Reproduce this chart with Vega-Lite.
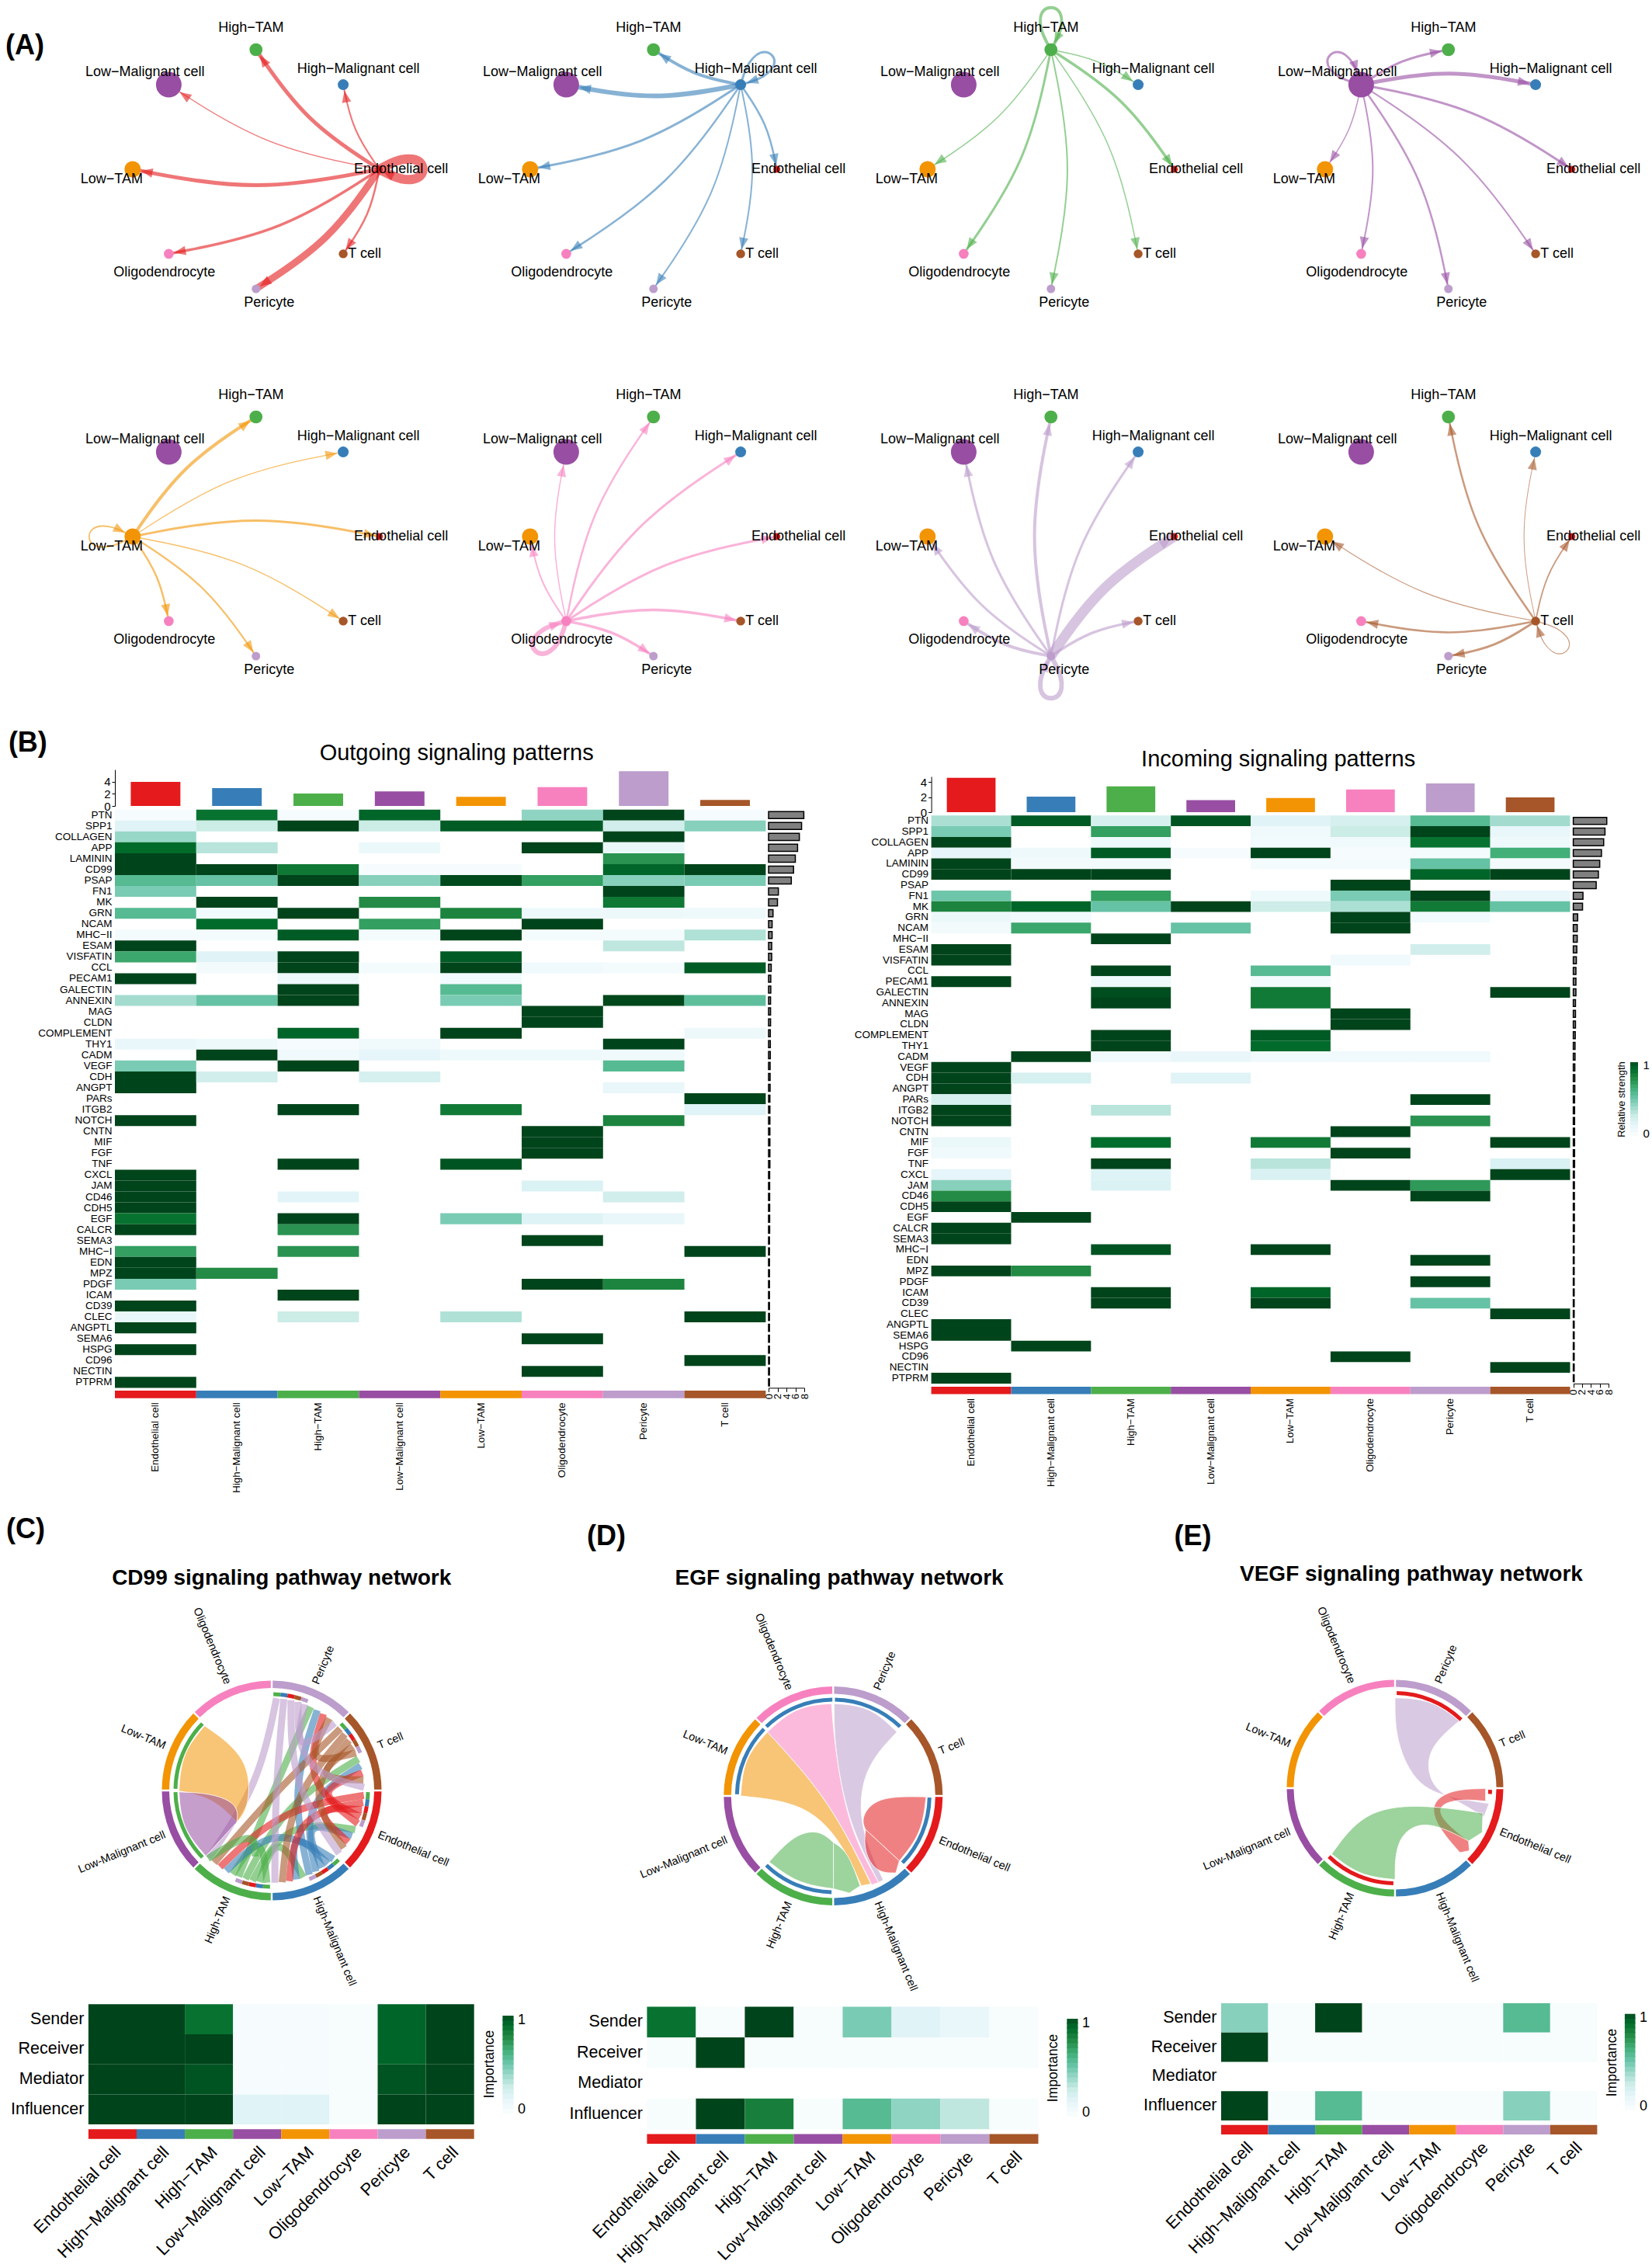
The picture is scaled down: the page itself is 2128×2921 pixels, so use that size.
{"$schema":"https://vega.github.io/schema/vega-lite/v6.json","padding":0,"background":"white","spacing":-14,
"config":{"font":"Liberation Sans","view":{"stroke":null},"range":{"category":["#E41A1C","#377EB8","#4DAF4A","#984EA3","#F29403","#F781BF","#BC9DCC","#A65628"]},"axis":{"grid":false,"labelColor":"black","titleColor":"black","domainColor":"black","tickColor":"black","labelOverlap":false,"labelLimit":500}},
"datasets":{
"edges":[
{"p":1,"lab":"(A)","x":-1.874,"y":1.032},
{"p":1,"c":"EC","t":"HT","w":5,"h":326,"x":[1,0.4,0],"y":[0,0.4,1],"o":[0,1,9]},
{"p":1,"c":"EC","t":"HM","w":2,"h":349,"x":[1,0.783,0.707],"y":[0,0.325,0.707],"o":[0,1,9]},
{"p":1,"c":"EC","t":"TC","w":2.5,"h":214,"x":[1,0.925,0.707],"y":[0,-0.383,-0.707],"o":[0,1,9]},
{"p":1,"c":"EC","t":"PE","w":9,"h":236,"x":[1,0.6,0],"y":[0,-0.6,-1],"o":[0,1,9]},
{"p":1,"c":"EC","t":"OL","w":3.5,"h":259,"x":[1,0.217,-0.707],"y":[0,-0.525,-0.707],"o":[0,1,9]},
{"p":1,"c":"EC","t":"LT","w":5,"h":281,"x":[1,0,-1],"y":[0,-0.2,0],"o":[0,1,9]},
{"p":1,"c":"EC","t":"LM","w":1.3,"h":304,"x":[1,0.075,-0.707],"y":[0,0.183,0.707],"o":[0,1,9]},
{"p":1,"c":"EC","t":"EC","w":12,"h":297,"x":[1,1.18,1.36,1.36,1.18,1],"y":[0,0.1,0.08,-0.08,-0.1,0],"o":[0,1,2,3,4,9]},
{"p":2,"c":"HM","t":"HT","w":4,"h":304,"x":[0.707,0.325,0],"y":[0.707,0.783,1],"o":[0,1,9]},
{"p":2,"c":"HM","t":"EC","w":2.5,"h":169,"x":[0.707,0.925,1],"y":[0.707,0.383,0],"o":[0,1,9]},
{"p":2,"c":"HM","t":"TC","w":2,"h":191,"x":[0.707,0.848,0.707],"y":[0.707,0,-0.707],"o":[0,1,9]},
{"p":2,"c":"HM","t":"PE","w":2,"h":214,"x":[0.707,0.525,0],"y":[0.707,-0.217,-1],"o":[0,1,9]},
{"p":2,"c":"HM","t":"OL","w":2.5,"h":236,"x":[0.707,0.141,-0.707],"y":[0.707,-0.141,-0.707],"o":[0,1,9]},
{"p":2,"c":"HM","t":"LT","w":3,"h":259,"x":[0.707,-0.075,-1],"y":[0.707,0.183,0],"o":[0,1,9]},
{"p":2,"c":"HM","t":"LM","w":6,"h":281,"x":[0.707,0,-0.707],"y":[0.707,0.566,0.707],"o":[0,1,9]},
{"p":2,"c":"HM","t":"HM","w":3,"h":252,"x":[0.707,0.763,0.905,1.019,0.905,0.707],"y":[0.707,0.905,1.019,0.905,0.763,0.707],"o":[0,1,2,3,4,9]},
{"p":3,"c":"HT","t":"HM","w":1.5,"h":124,"x":[0,0.383,0.707],"y":[1,0.925,0.707],"o":[0,1,9]},
{"p":3,"c":"HT","t":"EC","w":3.5,"h":146,"x":[0,0.6,1],"y":[1,0.6,0],"o":[0,1,9]},
{"p":3,"c":"HT","t":"TC","w":1.5,"h":169,"x":[0,0.525,0.707],"y":[1,0.217,-0.707],"o":[0,1,9]},
{"p":3,"c":"HT","t":"PE","w":2,"h":191,"x":[0,0.2,0],"y":[1,0,-1],"o":[0,1,9]},
{"p":3,"c":"HT","t":"OL","w":3,"h":214,"x":[0,-0.183,-0.707],"y":[1,0.075,-0.707],"o":[0,1,9]},
{"p":3,"c":"HT","t":"LT","w":1.5,"h":236,"x":[0,-0.4,-1],"y":[1,0.4,0],"o":[0,1,9]},
{"p":3,"c":"HT","t":"HT","w":4,"h":207,"x":[0,-0.1,-0.08,0.08,0.1,0],"y":[1,1.18,1.36,1.36,1.18,1],"o":[0,1,2,3,4,9]},
{"p":4,"c":"LM","t":"HT","w":3,"h":79,"x":[-0.707,-0.383,0],"y":[0.707,0.925,1],"o":[0,1,9]},
{"p":4,"c":"LM","t":"HM","w":5,"h":101,"x":[-0.707,0,0.707],"y":[0.707,0.848,0.707],"o":[0,1,9]},
{"p":4,"c":"LM","t":"EC","w":3,"h":124,"x":[-0.707,0.217,1],"y":[0.707,0.525,0],"o":[0,1,9]},
{"p":4,"c":"LM","t":"TC","w":2,"h":146,"x":[-0.707,0.141,0.707],"y":[0.707,0.141,-0.707],"o":[0,1,9]},
{"p":4,"c":"LM","t":"PE","w":2.5,"h":169,"x":[-0.707,-0.183,0],"y":[0.707,-0.075,-1],"o":[0,1,9]},
{"p":4,"c":"LM","t":"OL","w":2,"h":191,"x":[-0.707,-0.566,-0.707],"y":[0.707,0,-0.707],"o":[0,1,9]},
{"p":4,"c":"LM","t":"LT","w":1.5,"h":214,"x":[-0.707,-0.783,-1],"y":[0.707,0.325,0],"o":[0,1,9]},
{"p":4,"c":"LM","t":"LM","w":3,"h":162,"x":[-0.707,-0.905,-1.019,-0.905,-0.763,-0.707],"y":[0.707,0.763,0.905,1.019,0.905,0.707],"o":[0,1,2,3,4,9]},
{"p":5,"c":"LT","t":"HT","w":4,"h":56,"x":[-1,-0.6,0],"y":[0,0.6,1],"o":[0,1,9]},
{"p":5,"c":"LT","t":"HM","w":1.3,"h":79,"x":[-1,-0.217,0.707],"y":[0,0.525,0.707],"o":[0,1,9]},
{"p":5,"c":"LT","t":"EC","w":3,"h":101,"x":[-1,0,1],"y":[0,0.2,0],"o":[0,1,9]},
{"p":5,"c":"LT","t":"TC","w":1.4,"h":124,"x":[-1,-0.075,0.707],"y":[0,-0.183,-0.707],"o":[0,1,9]},
{"p":5,"c":"LT","t":"PE","w":2.2,"h":146,"x":[-1,-0.4,0],"y":[0,-0.4,-1],"o":[0,1,9]},
{"p":5,"c":"LT","t":"OL","w":2.5,"h":169,"x":[-1,-0.783,-0.707],"y":[0,-0.325,-0.707],"o":[0,1,9]},
{"p":5,"c":"LT","t":"LT","w":1.8,"h":117,"x":[-1,-1.18,-1.36,-1.36,-1.18,-1],"y":[0,-0.1,-0.08,0.08,0.1,0],"o":[0,1,2,3,4,9]},
{"p":6,"c":"OL","t":"HT","w":2.5,"h":34,"x":[-0.707,-0.525,0],"y":[-0.707,0.217,1],"o":[0,1,9]},
{"p":6,"c":"OL","t":"HM","w":3,"h":56,"x":[-0.707,-0.141,0.707],"y":[-0.707,0.141,0.707],"o":[0,1,9]},
{"p":6,"c":"OL","t":"EC","w":3,"h":79,"x":[-0.707,0.075,1],"y":[-0.707,-0.183,0],"o":[0,1,9]},
{"p":6,"c":"OL","t":"TC","w":3.5,"h":101,"x":[-0.707,0,0.707],"y":[-0.707,-0.566,-0.707],"o":[0,1,9]},
{"p":6,"c":"OL","t":"PE","w":3.5,"h":124,"x":[-0.707,-0.325,0],"y":[-0.707,-0.783,-1],"o":[0,1,9]},
{"p":6,"c":"OL","t":"LT","w":2,"h":349,"x":[-0.707,-0.925,-1],"y":[-0.707,-0.383,0],"o":[0,1,9]},
{"p":6,"c":"OL","t":"LM","w":1.5,"h":11,"x":[-0.707,-0.848,-0.707],"y":[-0.707,0,0.707],"o":[0,1,9]},
{"p":6,"c":"OL","t":"OL","w":6,"h":72,"x":[-0.707,-0.763,-0.905,-1.019,-0.905,-0.707],"y":[-0.707,-0.905,-1.019,-0.905,-0.763,-0.707],"o":[0,1,2,3,4,9]},
{"p":7,"c":"PE","t":"HT","w":4,"h":11,"x":[0,-0.2,0],"y":[-1,0,1],"o":[0,1,9]},
{"p":7,"c":"PE","t":"HM","w":3,"h":34,"x":[0,0.183,0.707],"y":[-1,-0.075,0.707],"o":[0,1,9]},
{"p":7,"c":"PE","t":"EC","w":13,"h":56,"x":[0,0.4,1],"y":[-1,-0.4,0],"o":[0,1,9]},
{"p":7,"c":"PE","t":"TC","w":3.5,"h":79,"x":[0,0.325,0.707],"y":[-1,-0.783,-0.707],"o":[0,1,9]},
{"p":7,"c":"PE","t":"OL","w":4,"h":304,"x":[0,-0.383,-0.707],"y":[-1,-0.925,-0.707],"o":[0,1,9]},
{"p":7,"c":"PE","t":"LT","w":3,"h":326,"x":[0,-0.6,-1],"y":[-1,-0.6,0],"o":[0,1,9]},
{"p":7,"c":"PE","t":"LM","w":3,"h":349,"x":[0,-0.525,-0.707],"y":[-1,-0.217,0.707],"o":[0,1,9]},
{"p":7,"c":"PE","t":"PE","w":6,"h":27,"x":[0,0.1,0.08,-0.08,-0.1,0],"y":[-1,-1.18,-1.36,-1.36,-1.18,-1],"o":[0,1,2,3,4,9]},
{"p":8,"c":"TC","t":"HT","w":2.5,"h":349,"x":[0.707,0.183,0],"y":[-0.707,0.075,1],"o":[0,1,9]},
{"p":8,"c":"TC","t":"HM","w":1,"h":11,"x":[0.707,0.566,0.707],"y":[-0.707,0,0.707],"o":[0,1,9]},
{"p":8,"c":"TC","t":"EC","w":1.8,"h":34,"x":[0.707,0.783,1],"y":[-0.707,-0.325,0],"o":[0,1,9]},
{"p":8,"c":"TC","t":"PE","w":3,"h":259,"x":[0.707,0.383,0],"y":[-0.707,-0.925,-1],"o":[0,1,9]},
{"p":8,"c":"TC","t":"OL","w":2.5,"h":281,"x":[0.707,0,-0.707],"y":[-0.707,-0.848,-0.707],"o":[0,1,9]},
{"p":8,"c":"TC","t":"LT","w":1.2,"h":304,"x":[0.707,-0.217,-1],"y":[-0.707,-0.525,0],"o":[0,1,9]},
{"p":8,"c":"TC","t":"TC","w":1.2,"h":342,"x":[0.707,0.905,1.019,0.905,0.763,0.707],"y":[-0.707,-0.763,-0.905,-1.019,-0.905,-0.707],"o":[0,1,2,3,4,9]}
],
"nodes":[{"c":"HT","x":0,"y":1,"s":280},{"c":"HM","x":0.707,"y":0.707,"s":196},{"c":"EC","x":1,"y":0,"s":81},{"c":"TC","x":0.707,"y":-0.707,"s":130},{"c":"PE","x":0,"y":-1,"s":120},{"c":"OL","x":-0.707,"y":-0.707,"s":160},{"c":"LT","x":-1,"y":0,"s":441},{"c":"LM","x":-0.707,"y":0.707,"s":1089}],
"labels":[{"n":"High−TAM","x":-0.04,"y":1.18},{"n":"Low−Malignant cell","x":-0.9,"y":0.81},{"n":"High−Malignant cell","x":0.83,"y":0.84},{"n":"Endothelial cell","x":1.176,"y":0},{"n":"T cell","x":0.88,"y":-0.71},{"n":"Pericyte","x":0.107,"y":-1.117},{"n":"Oligodendrocyte","x":-0.742,"y":-0.864},{"n":"Low−TAM","x":-1.17,"y":-0.084}],
"btitle":[{"t":"Outgoing signaling patterns","x":4.2,"y":8.68},{"t":"Incoming signaling patterns","x":14.3,"y":7.69}],
"bletter":[{"t":"(B)","x":-1.07,"y":10.38}],
"types":[{"n":"Endothelial cell","c":"EC","k":1},{"n":"High−Malignant cell","c":"HM","k":1},{"n":"High−TAM","c":"HT","k":1},{"n":"Low−Malignant cell","c":"LM","k":1},{"n":"Low−TAM","c":"LT","k":1},{"n":"Oligodendrocyte","c":"OL","k":1},{"n":"Pericyte","c":"PE","k":1},{"n":"T cell","c":"TC","k":1}],
"bars":[{"g":"O","c":"EC","v":3.98},{"g":"O","c":"HM","v":2.95},{"g":"O","c":"HT","v":2.05},{"g":"O","c":"LM","v":2.4},{"g":"O","c":"LT","v":1.5},{"g":"O","c":"OL","v":3.1},{"g":"O","c":"PE","v":5.75},{"g":"O","c":"TC","v":1},{"g":"I","c":"EC","v":4.55},{"g":"I","c":"HM","v":2.05},{"g":"I","c":"HT","v":3.42},{"g":"I","c":"LM","v":1.6},{"g":"I","c":"LT","v":1.88},{"g":"I","c":"OL","v":3},{"g":"I","c":"PE","v":3.8},{"g":"I","c":"TC","v":1.95}],
"side":[{"r":"PTN","o":7.9,"i":7.6},{"r":"SPP1","o":7.4,"i":7.2},{"r":"COLLAGEN","o":6.9,"i":6.9},{"r":"APP","o":6.5,"i":6.4},{"r":"LAMININ","o":6,"i":6},{"r":"CD99","o":5.6,"i":5.7},{"r":"PSAP","o":5.1,"i":5.2},{"r":"FN1","o":2.2,"i":2.2},{"r":"MK","o":2,"i":2.1},{"r":"GRN","o":1,"i":1},{"r":"NCAM","o":0.8,"i":0.9},{"r":"MHC−II","o":0.8,"i":0.9},{"r":"ESAM","o":0.7,"i":0.8},{"r":"VISFATIN","o":0.7,"i":0.7},{"r":"CCL","o":0.6,"i":0.6},{"r":"PECAM1","o":0.5,"i":0.6},{"r":"GALECTIN","o":0.5,"i":0.6},{"r":"ANNEXIN","o":0.45,"i":0.5},{"r":"MAG","o":0.45,"i":0.5},{"r":"CLDN","o":0.45,"i":0.5},{"r":"COMPLEMENT","o":0.4,"i":0.45},{"r":"THY1","o":0.4,"i":0.4},{"r":"CADM","o":0.4,"i":0.4},{"r":"VEGF","o":0.35,"i":0.35},{"r":"CDH","o":0.35,"i":0.35},{"r":"ANGPT","o":0.35,"i":0.35},{"r":"PARs","o":0.3,"i":0.3},{"r":"ITGB2","o":0.3,"i":0.3},{"r":"NOTCH","o":0.3,"i":0.3},{"r":"CNTN","o":0.3,"i":0.3},{"r":"MIF","o":0.3,"i":0.3},{"r":"FGF","o":0.3,"i":0.3},{"r":"TNF","o":0.3,"i":0.3},{"r":"CXCL","o":0.25,"i":0.25},{"r":"JAM","o":0.25,"i":0.25},{"r":"CD46","o":0.25,"i":0.25},{"r":"CDH5","o":0.25,"i":0.25},{"r":"EGF","o":0.25,"i":0.25},{"r":"CALCR","o":0.25,"i":0.25},{"r":"SEMA3","o":0.2,"i":0.2},{"r":"MHC−I","o":0.2,"i":0.2},{"r":"EDN","o":0.2,"i":0.2},{"r":"MPZ","o":0.2,"i":0.2},{"r":"PDGF","o":0.2,"i":0.2},{"r":"ICAM","o":0.2,"i":0.2},{"r":"CD39","o":0.2,"i":0.2},{"r":"CLEC","o":0.2,"i":0.2},{"r":"ANGPTL","o":0.2,"i":0.2},{"r":"SEMA6","o":0.2,"i":0.2},{"r":"HSPG","o":0.2,"i":0.2},{"r":"CD96","o":0.2,"i":0.2},{"r":"NECTIN","o":0.2,"i":0.2},{"r":"PTPRM","o":0.2,"i":0.2}],
"heatO":[
{"r":"PTN","c":"EC","v":0.01},{"r":"PTN","c":"HM","v":0.85},{"r":"PTN","c":"HT","v":0.01},{"r":"PTN","c":"LM","v":0.9},{"r":"PTN","c":"OL","v":0.4},{"r":"PTN","c":"PE","v":1},{"r":"PTN","c":"TC","v":0.01},
{"r":"SPP1","c":"EC","v":0.15},{"r":"SPP1","c":"HM","v":0.25},{"r":"SPP1","c":"HT","v":1},{"r":"SPP1","c":"LM","v":0.25},{"r":"SPP1","c":"LT","v":0.93},{"r":"SPP1","c":"OL","v":0.93},{"r":"SPP1","c":"PE","v":0.22},{"r":"SPP1","c":"TC","v":0.42},
{"r":"COLLAGEN","c":"EC","v":0.38},{"r":"COLLAGEN","c":"PE","v":1},
{"r":"APP","c":"EC","v":0.88},{"r":"APP","c":"HM","v":0.3},{"r":"APP","c":"LM","v":0.08},{"r":"APP","c":"OL","v":1},{"r":"APP","c":"PE","v":0.08},
{"r":"LAMININ","c":"EC","v":1},{"r":"LAMININ","c":"PE","v":0.72},
{"r":"CD99","c":"EC","v":1},{"r":"CD99","c":"HM","v":1},{"r":"CD99","c":"HT","v":0.83},{"r":"CD99","c":"LM","v":0.01},{"r":"CD99","c":"LT","v":0.01},{"r":"CD99","c":"PE","v":0.9},{"r":"CD99","c":"TC","v":1},
{"r":"PSAP","c":"EC","v":0.55},{"r":"PSAP","c":"HM","v":0.5},{"r":"PSAP","c":"HT","v":1},{"r":"PSAP","c":"LM","v":0.42},{"r":"PSAP","c":"LT","v":0.98},{"r":"PSAP","c":"OL","v":0.68},{"r":"PSAP","c":"PE","v":0.42},{"r":"PSAP","c":"TC","v":0.45},
{"r":"FN1","c":"EC","v":0.45},{"r":"FN1","c":"PE","v":1},
{"r":"MK","c":"HM","v":1},{"r":"MK","c":"LM","v":0.75},{"r":"MK","c":"PE","v":0.83},
{"r":"GRN","c":"EC","v":0.55},{"r":"GRN","c":"HM","v":0.04},{"r":"GRN","c":"HT","v":1},{"r":"GRN","c":"LT","v":0.78},{"r":"GRN","c":"OL","v":0.07},{"r":"GRN","c":"PE","v":0.07},{"r":"GRN","c":"TC","v":0.06},
{"r":"NCAM","c":"HM","v":0.88},{"r":"NCAM","c":"LM","v":0.68},{"r":"NCAM","c":"OL","v":1},
{"r":"MHC−II","c":"EC","v":0.02},{"r":"MHC−II","c":"HM","v":0.02},{"r":"MHC−II","c":"HT","v":0.93},{"r":"MHC−II","c":"LM","v":0.02},{"r":"MHC−II","c":"LT","v":1},{"r":"MHC−II","c":"OL","v":0.02},{"r":"MHC−II","c":"PE","v":0.02},{"r":"MHC−II","c":"TC","v":0.32},
{"r":"ESAM","c":"EC","v":1},{"r":"ESAM","c":"PE","v":0.28},
{"r":"VISFATIN","c":"EC","v":0.65},{"r":"VISFATIN","c":"HM","v":0.15},{"r":"VISFATIN","c":"HT","v":1},{"r":"VISFATIN","c":"LT","v":0.93},
{"r":"CCL","c":"HM","v":0.03},{"r":"CCL","c":"HT","v":1},{"r":"CCL","c":"LM","v":0.02},{"r":"CCL","c":"LT","v":1},{"r":"CCL","c":"OL","v":0.05},{"r":"CCL","c":"PE","v":0.02},{"r":"CCL","c":"TC","v":0.93},
{"r":"PECAM1","c":"EC","v":1},{"r":"PECAM1","c":"HT","v":0.06},{"r":"PECAM1","c":"LT","v":0.04},
{"r":"GALECTIN","c":"HT","v":1},{"r":"GALECTIN","c":"LT","v":0.55},
{"r":"ANNEXIN","c":"EC","v":0.35},{"r":"ANNEXIN","c":"HM","v":0.5},{"r":"ANNEXIN","c":"HT","v":1},{"r":"ANNEXIN","c":"LT","v":0.45},{"r":"ANNEXIN","c":"PE","v":0.99},{"r":"ANNEXIN","c":"TC","v":0.52},
{"r":"MAG","c":"OL","v":1},{"r":"CLDN","c":"OL","v":1},
{"r":"COMPLEMENT","c":"HT","v":0.9},{"r":"COMPLEMENT","c":"LT","v":1},{"r":"COMPLEMENT","c":"TC","v":0.07},
{"r":"THY1","c":"EC","v":0.1},{"r":"THY1","c":"HM","v":0.06},{"r":"THY1","c":"HT","v":0.01},{"r":"THY1","c":"LM","v":0.05},{"r":"THY1","c":"PE","v":1},
{"r":"CADM","c":"HM","v":1},{"r":"CADM","c":"HT","v":0.05},{"r":"CADM","c":"LM","v":0.12},{"r":"CADM","c":"LT","v":0.06},{"r":"CADM","c":"OL","v":0.06},{"r":"CADM","c":"PE","v":0.05},
{"r":"VEGF","c":"EC","v":0.45},{"r":"VEGF","c":"HT","v":1},{"r":"VEGF","c":"PE","v":0.55},
{"r":"CDH","c":"EC","v":1},{"r":"CDH","c":"HM","v":0.22},{"r":"CDH","c":"LM","v":0.2},
{"r":"ANGPT","c":"EC","v":1},{"r":"ANGPT","c":"PE","v":0.1},
{"r":"PARs","c":"TC","v":1},
{"r":"ITGB2","c":"HT","v":1},{"r":"ITGB2","c":"LT","v":0.82},{"r":"ITGB2","c":"TC","v":0.15},
{"r":"NOTCH","c":"EC","v":1},{"r":"NOTCH","c":"PE","v":0.78},
{"r":"CNTN","c":"OL","v":1},{"r":"MIF","c":"OL","v":1},{"r":"FGF","c":"OL","v":1},
{"r":"TNF","c":"HT","v":1},{"r":"TNF","c":"LT","v":0.95},
{"r":"CXCL","c":"EC","v":1},
{"r":"JAM","c":"EC","v":1},{"r":"JAM","c":"OL","v":0.17},
{"r":"CD46","c":"EC","v":1},{"r":"CD46","c":"HT","v":0.14},{"r":"CD46","c":"PE","v":0.22},
{"r":"CDH5","c":"EC","v":1},
{"r":"EGF","c":"EC","v":0.85},{"r":"EGF","c":"HT","v":1},{"r":"EGF","c":"LT","v":0.45},{"r":"EGF","c":"OL","v":0.16},{"r":"EGF","c":"PE","v":0.1},
{"r":"CALCR","c":"EC","v":1},{"r":"CALCR","c":"HT","v":0.72},
{"r":"SEMA3","c":"OL","v":1},
{"r":"MHC−I","c":"EC","v":0.68},{"r":"MHC−I","c":"HT","v":0.72},{"r":"MHC−I","c":"TC","v":1},
{"r":"EDN","c":"EC","v":1},
{"r":"MPZ","c":"EC","v":1},{"r":"MPZ","c":"HM","v":0.75},
{"r":"PDGF","c":"EC","v":0.45},{"r":"PDGF","c":"OL","v":1},{"r":"PDGF","c":"PE","v":0.78},
{"r":"ICAM","c":"HT","v":1},{"r":"CD39","c":"EC","v":1},
{"r":"CLEC","c":"EC","v":0.1},{"r":"CLEC","c":"HT","v":0.25},{"r":"CLEC","c":"LT","v":0.32},{"r":"CLEC","c":"TC","v":1},
{"r":"ANGPTL","c":"EC","v":1},{"r":"SEMA6","c":"OL","v":1},{"r":"HSPG","c":"EC","v":1},{"r":"CD96","c":"TC","v":1},{"r":"NECTIN","c":"OL","v":1},{"r":"PTPRM","c":"EC","v":1}
],
"heatI":[
{"r":"PTN","c":"EC","v":0.33},{"r":"PTN","c":"HM","v":0.93},{"r":"PTN","c":"HT","v":0.2},{"r":"PTN","c":"LM","v":0.95},{"r":"PTN","c":"LT","v":0.15},{"r":"PTN","c":"OL","v":0.2},{"r":"PTN","c":"PE","v":0.55},{"r":"PTN","c":"TC","v":0.35},
{"r":"SPP1","c":"EC","v":0.45},{"r":"SPP1","c":"HT","v":0.68},{"r":"SPP1","c":"LT","v":0.05},{"r":"SPP1","c":"OL","v":0.25},{"r":"SPP1","c":"PE","v":1},{"r":"SPP1","c":"TC","v":0.1},
{"r":"COLLAGEN","c":"EC","v":1},{"r":"COLLAGEN","c":"HT","v":0.06},{"r":"COLLAGEN","c":"LT","v":0.04},{"r":"COLLAGEN","c":"OL","v":0.05},{"r":"COLLAGEN","c":"PE","v":0.85},{"r":"COLLAGEN","c":"TC","v":0.06},
{"r":"APP","c":"EC","v":0.12},{"r":"APP","c":"HM","v":0.06},{"r":"APP","c":"HT","v":0.93},{"r":"APP","c":"LM","v":0.01},{"r":"APP","c":"LT","v":1},{"r":"APP","c":"OL","v":0.01},{"r":"APP","c":"PE","v":0.02},{"r":"APP","c":"TC","v":0.62},
{"r":"LAMININ","c":"EC","v":1},{"r":"LAMININ","c":"HM","v":0.03},{"r":"LAMININ","c":"HT","v":0.03},{"r":"LAMININ","c":"LT","v":0.02},{"r":"LAMININ","c":"OL","v":0.02},{"r":"LAMININ","c":"PE","v":0.5},{"r":"LAMININ","c":"TC","v":0.03},
{"r":"CD99","c":"EC","v":1},{"r":"CD99","c":"HM","v":1},{"r":"CD99","c":"HT","v":1},{"r":"CD99","c":"PE","v":0.9},{"r":"CD99","c":"TC","v":1},
{"r":"PSAP","c":"OL","v":1},
{"r":"FN1","c":"EC","v":0.48},{"r":"FN1","c":"HT","v":0.68},{"r":"FN1","c":"LT","v":0.06},{"r":"FN1","c":"OL","v":0.45},{"r":"FN1","c":"PE","v":1},{"r":"FN1","c":"TC","v":0.1},
{"r":"MK","c":"EC","v":0.78},{"r":"MK","c":"HM","v":0.9},{"r":"MK","c":"HT","v":0.5},{"r":"MK","c":"LM","v":1},{"r":"MK","c":"LT","v":0.24},{"r":"MK","c":"OL","v":0.33},{"r":"MK","c":"PE","v":0.82},{"r":"MK","c":"TC","v":0.5},
{"r":"GRN","c":"EC","v":0.08},{"r":"GRN","c":"HM","v":0.05},{"r":"GRN","c":"OL","v":1},{"r":"GRN","c":"PE","v":0.04},
{"r":"NCAM","c":"EC","v":0.03},{"r":"NCAM","c":"HM","v":0.65},{"r":"NCAM","c":"LM","v":0.5},{"r":"NCAM","c":"OL","v":1},
{"r":"MHC−II","c":"HT","v":1},
{"r":"ESAM","c":"EC","v":1},{"r":"ESAM","c":"PE","v":0.22},
{"r":"VISFATIN","c":"EC","v":1},{"r":"VISFATIN","c":"OL","v":0.05},
{"r":"CCL","c":"HT","v":1},{"r":"CCL","c":"LT","v":0.55},
{"r":"PECAM1","c":"EC","v":1},{"r":"PECAM1","c":"HT","v":0.06},{"r":"PECAM1","c":"LT","v":0.02},
{"r":"GALECTIN","c":"HT","v":0.97},{"r":"GALECTIN","c":"LT","v":0.82},{"r":"GALECTIN","c":"TC","v":1},
{"r":"ANNEXIN","c":"HT","v":1},{"r":"ANNEXIN","c":"LT","v":0.82},
{"r":"MAG","c":"OL","v":1},{"r":"CLDN","c":"OL","v":1},
{"r":"COMPLEMENT","c":"HT","v":1},{"r":"COMPLEMENT","c":"LT","v":0.93},
{"r":"THY1","c":"HT","v":1},{"r":"THY1","c":"LT","v":0.88},
{"r":"CADM","c":"HM","v":1},{"r":"CADM","c":"HT","v":0.05},{"r":"CADM","c":"LM","v":0.1},{"r":"CADM","c":"LT","v":0.05},{"r":"CADM","c":"OL","v":0.05},{"r":"CADM","c":"PE","v":0.05},
{"r":"VEGF","c":"EC","v":1},
{"r":"CDH","c":"EC","v":1},{"r":"CDH","c":"HM","v":0.2},{"r":"CDH","c":"LM","v":0.15},
{"r":"ANGPT","c":"EC","v":1},
{"r":"PARs","c":"EC","v":0.2},{"r":"PARs","c":"PE","v":1},
{"r":"ITGB2","c":"EC","v":1},{"r":"ITGB2","c":"HT","v":0.3},
{"r":"NOTCH","c":"EC","v":1},{"r":"NOTCH","c":"PE","v":0.72},
{"r":"CNTN","c":"OL","v":1},
{"r":"MIF","c":"EC","v":0.08},{"r":"MIF","c":"HT","v":0.87},{"r":"MIF","c":"LT","v":0.82},{"r":"MIF","c":"TC","v":1},
{"r":"FGF","c":"EC","v":0.05},{"r":"FGF","c":"OL","v":1},
{"r":"TNF","c":"HT","v":1},{"r":"TNF","c":"LT","v":0.3},{"r":"TNF","c":"TC","v":0.18},
{"r":"CXCL","c":"EC","v":0.12},{"r":"CXCL","c":"HT","v":0.16},{"r":"CXCL","c":"LT","v":0.18},{"r":"CXCL","c":"TC","v":1},
{"r":"JAM","c":"EC","v":0.42},{"r":"JAM","c":"HT","v":0.17},{"r":"JAM","c":"OL","v":1},{"r":"JAM","c":"PE","v":0.7},
{"r":"CD46","c":"EC","v":0.75},{"r":"CD46","c":"PE","v":1},
{"r":"CDH5","c":"EC","v":1},{"r":"EGF","c":"HM","v":1},{"r":"CALCR","c":"EC","v":1},{"r":"SEMA3","c":"EC","v":1},
{"r":"MHC−I","c":"HT","v":0.95},{"r":"MHC−I","c":"LT","v":1},
{"r":"EDN","c":"PE","v":1},
{"r":"MPZ","c":"EC","v":1},{"r":"MPZ","c":"HM","v":0.75},
{"r":"PDGF","c":"PE","v":1},
{"r":"ICAM","c":"HT","v":1},{"r":"ICAM","c":"LT","v":0.9},
{"r":"CD39","c":"HT","v":1},{"r":"CD39","c":"LT","v":1},{"r":"CD39","c":"PE","v":0.5},
{"r":"CLEC","c":"TC","v":1},{"r":"ANGPTL","c":"EC","v":1},{"r":"SEMA6","c":"EC","v":1},{"r":"HSPG","c":"HM","v":1},{"r":"CD96","c":"OL","v":1},{"r":"NECTIN","c":"TC","v":1},{"r":"PTPRM","c":"EC","v":1}
],
"ramp":[{"k":1,"v":0,"v2":0.06},{"k":1,"v":0.05,"v2":0.11},{"k":1,"v":0.1,"v2":0.16},{"k":1,"v":0.15,"v2":0.21},{"k":1,"v":0.2,"v2":0.26},{"k":1,"v":0.25,"v2":0.31},{"k":1,"v":0.3,"v2":0.36},{"k":1,"v":0.35,"v2":0.41},{"k":1,"v":0.4,"v2":0.46},{"k":1,"v":0.45,"v2":0.51},{"k":1,"v":0.5,"v2":0.56},{"k":1,"v":0.55,"v2":0.61},{"k":1,"v":0.6,"v2":0.66},{"k":1,"v":0.65,"v2":0.71},{"k":1,"v":0.7,"v2":0.76},{"k":1,"v":0.75,"v2":0.81},{"k":1,"v":0.8,"v2":0.86},{"k":1,"v":0.85,"v2":0.91},{"k":1,"v":0.9,"v2":0.96},{"k":1,"v":0.95,"v2":1}],
"imp":[
{"g":"C","r":"Sender","c":"EC","v":1},{"g":"C","r":"Sender","c":"HM","v":1},{"g":"C","r":"Sender","c":"HT","v":0.85},{"g":"C","r":"Sender","c":"LM","v":0.01},{"g":"C","r":"Sender","c":"LT","v":0.01},{"g":"C","r":"Sender","c":"OL","v":0},{"g":"C","r":"Sender","c":"PE","v":0.9},{"g":"C","r":"Sender","c":"TC","v":1},
{"g":"C","r":"Receiver","c":"EC","v":1},{"g":"C","r":"Receiver","c":"HM","v":1},{"g":"C","r":"Receiver","c":"HT","v":1},{"g":"C","r":"Receiver","c":"LM","v":0.01},{"g":"C","r":"Receiver","c":"LT","v":0.01},{"g":"C","r":"Receiver","c":"OL","v":0},{"g":"C","r":"Receiver","c":"PE","v":0.9},{"g":"C","r":"Receiver","c":"TC","v":1},
{"g":"C","r":"Mediator","c":"EC","v":1},{"g":"C","r":"Mediator","c":"HM","v":1},{"g":"C","r":"Mediator","c":"HT","v":0.95},{"g":"C","r":"Mediator","c":"LM","v":0.01},{"g":"C","r":"Mediator","c":"LT","v":0.01},{"g":"C","r":"Mediator","c":"OL","v":0},{"g":"C","r":"Mediator","c":"PE","v":0.95},{"g":"C","r":"Mediator","c":"TC","v":1},
{"g":"C","r":"Influencer","c":"EC","v":1},{"g":"C","r":"Influencer","c":"HM","v":1},{"g":"C","r":"Influencer","c":"HT","v":1},{"g":"C","r":"Influencer","c":"LM","v":0.15},{"g":"C","r":"Influencer","c":"LT","v":0.15},{"g":"C","r":"Influencer","c":"OL","v":0},{"g":"C","r":"Influencer","c":"PE","v":1},{"g":"C","r":"Influencer","c":"TC","v":1},
{"g":"D","r":"Sender","c":"EC","v":0.85},{"g":"D","r":"Sender","c":"HM","v":0},{"g":"D","r":"Sender","c":"HT","v":1},{"g":"D","r":"Sender","c":"LM","v":0},{"g":"D","r":"Sender","c":"LT","v":0.45},{"g":"D","r":"Sender","c":"OL","v":0.15},{"g":"D","r":"Sender","c":"PE","v":0.1},{"g":"D","r":"Sender","c":"TC","v":0},
{"g":"D","r":"Receiver","c":"EC","v":0},{"g":"D","r":"Receiver","c":"HM","v":1},{"g":"D","r":"Receiver","c":"HT","v":0},{"g":"D","r":"Receiver","c":"LM","v":0},{"g":"D","r":"Receiver","c":"LT","v":0},{"g":"D","r":"Receiver","c":"OL","v":0},{"g":"D","r":"Receiver","c":"PE","v":0},{"g":"D","r":"Receiver","c":"TC","v":0},
{"g":"D","r":"Influencer","c":"EC","v":0},{"g":"D","r":"Influencer","c":"HM","v":1},{"g":"D","r":"Influencer","c":"HT","v":0.8},{"g":"D","r":"Influencer","c":"LM","v":0},{"g":"D","r":"Influencer","c":"LT","v":0.55},{"g":"D","r":"Influencer","c":"OL","v":0.4},{"g":"D","r":"Influencer","c":"PE","v":0.28},{"g":"D","r":"Influencer","c":"TC","v":0},
{"g":"E","r":"Sender","c":"EC","v":0.42},{"g":"E","r":"Sender","c":"HM","v":0},{"g":"E","r":"Sender","c":"HT","v":1},{"g":"E","r":"Sender","c":"LM","v":0},{"g":"E","r":"Sender","c":"LT","v":0},{"g":"E","r":"Sender","c":"OL","v":0},{"g":"E","r":"Sender","c":"PE","v":0.55},{"g":"E","r":"Sender","c":"TC","v":0},
{"g":"E","r":"Receiver","c":"EC","v":1},{"g":"E","r":"Receiver","c":"HM","v":0},{"g":"E","r":"Receiver","c":"HT","v":0},{"g":"E","r":"Receiver","c":"LM","v":0},{"g":"E","r":"Receiver","c":"LT","v":0},{"g":"E","r":"Receiver","c":"OL","v":0},{"g":"E","r":"Receiver","c":"PE","v":0},{"g":"E","r":"Receiver","c":"TC","v":0},
{"g":"E","r":"Influencer","c":"EC","v":1},{"g":"E","r":"Influencer","c":"HM","v":0},{"g":"E","r":"Influencer","c":"HT","v":0.55},{"g":"E","r":"Influencer","c":"LM","v":0},{"g":"E","r":"Influencer","c":"LT","v":0},{"g":"E","r":"Influencer","c":"OL","v":0},{"g":"E","r":"Influencer","c":"PE","v":0.42},{"g":"E","r":"Influencer","c":"TC","v":0}
],
"ring":[{"c":"PE","a0":0.5,"a1":44.5,"x":0,"y":0},{"c":"TC","a0":45.5,"a1":89.5,"x":0,"y":0},{"c":"EC","a0":90.5,"a1":134.5,"x":0,"y":0},{"c":"HM","a0":135.5,"a1":179.5,"x":0,"y":0},{"c":"HT","a0":180.5,"a1":224.5,"x":0,"y":0},{"c":"LM","a0":225.5,"a1":269.5,"x":0,"y":0},{"c":"LT","a0":270.5,"a1":314.5,"x":0,"y":0},{"c":"OL","a0":315.5,"a1":359.5,"x":0,"y":0}],
"thin":[
{"g":"C","c":"HT","a0":1,"a1":5.2,"x":0,"y":0},{"g":"C","c":"HM","a0":5.2,"a1":9.4,"x":0,"y":0},{"g":"C","c":"EC","a0":9.4,"a1":13.6,"x":0,"y":0},{"g":"C","c":"TC","a0":13.6,"a1":17.8,"x":0,"y":0},{"g":"C","c":"PE","a0":17.8,"a1":22,"x":0,"y":0},
{"g":"C","c":"HT","a0":46,"a1":50.2,"x":0,"y":0},{"g":"C","c":"HM","a0":50.2,"a1":54.4,"x":0,"y":0},{"g":"C","c":"EC","a0":54.4,"a1":58.6,"x":0,"y":0},{"g":"C","c":"TC","a0":58.6,"a1":62.8,"x":0,"y":0},{"g":"C","c":"PE","a0":62.8,"a1":67,"x":0,"y":0},
{"g":"C","c":"HT","a0":91,"a1":95.2,"x":0,"y":0},{"g":"C","c":"HM","a0":95.2,"a1":99.4,"x":0,"y":0},{"g":"C","c":"EC","a0":99.4,"a1":103.6,"x":0,"y":0},{"g":"C","c":"TC","a0":103.6,"a1":107.8,"x":0,"y":0},{"g":"C","c":"PE","a0":107.8,"a1":112,"x":0,"y":0},
{"g":"C","c":"HT","a0":136,"a1":140.2,"x":0,"y":0},{"g":"C","c":"HM","a0":140.2,"a1":144.4,"x":0,"y":0},{"g":"C","c":"EC","a0":144.4,"a1":148.6,"x":0,"y":0},{"g":"C","c":"TC","a0":148.6,"a1":152.8,"x":0,"y":0},{"g":"C","c":"PE","a0":152.8,"a1":157,"x":0,"y":0},
{"g":"C","c":"HT","a0":181,"a1":185.2,"x":0,"y":0},{"g":"C","c":"HM","a0":185.2,"a1":189.4,"x":0,"y":0},{"g":"C","c":"EC","a0":189.4,"a1":193.6,"x":0,"y":0},{"g":"C","c":"TC","a0":193.6,"a1":197.8,"x":0,"y":0},{"g":"C","c":"PE","a0":197.8,"a1":202,"x":0,"y":0},
{"g":"C","c":"HT","a0":226,"a1":269,"x":0,"y":0},{"g":"C","c":"HT","a0":271,"a1":314,"x":0,"y":0},
{"g":"D","c":"HM","a0":1,"a1":44,"x":0,"y":0},{"g":"D","c":"HM","a0":91,"a1":134,"x":0,"y":0},{"g":"D","c":"HM","a0":181,"a1":224,"x":0,"y":0},{"g":"D","c":"HM","a0":271,"a1":314,"x":0,"y":0},{"g":"D","c":"HM","a0":316,"a1":359.5,"x":0,"y":0},
{"g":"E","c":"EC","a0":1,"a1":44,"x":0,"y":0},{"g":"E","c":"EC","a0":91,"a1":93.5,"x":0,"y":0},{"g":"E","c":"EC","a0":181,"a1":224,"x":0,"y":0}
],
"chordFill":[
{"g":"C","id":"c1","c":"LT","x":[-0.844,-0.844,-0.844,-0.82,-0.61,-0.61,-0.61,-0.2,-0.2,-0.318,-0.318,-0.318,-0.529,-0.844,-0.844,-0.844],"y":[-0.004,-0.004,-0.004,0.34,0.588,0.588,0.588,0.3,-0.15,-0.289,-0.289,-0.289,-0.07,-0.004,-0.004,-0.004]},
{"g":"C","id":"c2","c":"LM","x":[-0.844,-0.844,-0.844,-0.529,-0.3,-0.318,-0.318,-0.318,-0.6,-0.6,-0.6,-0.82,-0.844,-0.844,-0.844],"y":[-0.013,-0.013,-0.013,-0.026,-0.13,-0.289,-0.289,-0.289,-0.596,-0.596,-0.596,-0.34,-0.013,-0.013,-0.013]},
{"g":"D","id":"d1","c":"LT","x":[-0.845,-0.845,-0.845,-0.226,0.1,0.256,0.256,0.256,0.344,0.344,0.344,0.067,-0.226,-0.601,-0.601,-0.601,-0.82,-0.845,-0.845,-0.845],"y":[0,0,0,-0.066,-0.46,-0.821,-0.821,-0.821,-0.804,-0.804,-0.804,-0.24,0.176,0.584,0.584,0.584,0.34,0,0,0]},
{"g":"D","id":"d2","c":"OL","x":[-0.601,-0.601,-0.601,-0.34,-0.015,-0.015,-0.015,0.008,0.132,0.415,0.415,0.415,0.353,0.353,0.353,0.067,-0.226,-0.601,-0.601,-0.601],"y":[0.584,0.584,0.584,0.82,0.843,0.843,0.843,0.505,-0.285,-0.79,-0.79,-0.79,-0.812,-0.812,-0.812,-0.24,0.176,0.584,0.584,0.584]},
{"g":"D","id":"d3","c":"PE","x":[0.008,0.008,0.008,0.34,0.581,0.581,0.581,0.262,0.23,0.458,0.458,0.458,0.415,0.415,0.415,0.132,0.008,0.008,0.008,0.008],"y":[0.843,0.843,0.843,0.82,0.584,0.584,0.584,0.242,-0.285,-0.769,-0.769,-0.769,-0.79,-0.79,-0.79,-0.24,0.46,0.843,0.843,0.843]},
{"g":"D","id":"d4","c":"EC","x":[0.848,0.848,0.848,0.392,0.25,0.295,0.295,0.295,0.604,0.604,0.604,0.81,0.848,0.848,0.848],"y":[-0.009,-0.009,-0.009,0,-0.2,-0.307,-0.307,-0.307,-0.593,-0.593,-0.593,-0.34,-0.009,-0.009,-0.009]},
{"g":"D","id":"d5","c":"EC","x":[0.295,0.295,0.295,0.278,0.392,0.572,0.572,0.572,0.604,0.604,0.604,0.295,0.295,0.295],"y":[-0.307,-0.307,-0.307,-0.505,-0.703,-0.703,-0.703,-0.703,-0.593,-0.593,-0.593,-0.307,-0.307,-0.307]},
{"g":"D","id":"d6","c":"HT","x":[-0.585,-0.585,-0.585,-0.357,-0.129,0.002,0.002,0.002,0.002,0.002,0.002,-0.33,-0.585,-0.585,-0.585],"y":[-0.602,-0.602,-0.602,-0.351,-0.307,-0.426,-0.426,-0.426,-0.848,-0.848,-0.848,-0.8,-0.602,-0.602,-0.602]},
{"g":"D","id":"d7","c":"HT","x":[0.002,0.002,0.002,0.132,0.246,0.246,0.246,0.148,0.148,0.148,0.002,0.002,0.002,0.002,0.002,0.002],"y":[-0.426,-0.426,-0.426,-0.505,-0.821,-0.821,-0.821,-0.887,-0.887,-0.887,-0.848,-0.848,-0.848,-0.426,-0.426,-0.426]},
{"g":"E","id":"e1","c":"PE","x":[0,0,0,0.34,0.594,0.594,0.594,0.27,0.333,0.585,0.82,0.82,0.82,0.868,0.868,0.868,0.585,0.208,0,0,0,0],"y":[0.834,0.834,0.834,0.82,0.621,0.621,0.621,0.346,-0.009,-0.12,-0.266,-0.266,-0.266,-0.142,-0.142,-0.142,-0.098,-0.009,0.435,0.834,0.834,0.834]},
{"g":"E","id":"e2","c":"EC","x":[0.836,0.836,0.836,0.522,0.318,0.396,0.6,0.6,0.6,0.686,0.686,0.686,0.679,0.679,0.679,0.459,0.38,0.585,0.836,0.836,0.836,0.836,0.836,0.836],"y":[-0.004,-0.004,-0.004,-0.009,-0.142,-0.364,-0.595,-0.595,-0.595,-0.577,-0.577,-0.577,-0.488,-0.488,-0.488,-0.32,-0.164,-0.098,-0.12,-0.12,-0.12,-0.004,-0.004,-0.004]},
{"g":"E","id":"e3","c":"HT","x":[-0.585,-0.585,-0.585,-0.296,0.208,0.811,0.811,0.811,0.805,0.805,0.805,0.68,0.68,0.68,0.27,0.003,0,0,0,-0.33,-0.585,-0.585,-0.585],"y":[-0.608,-0.608,-0.608,-0.209,-0.142,-0.231,-0.231,-0.231,-0.408,-0.408,-0.408,-0.488,-0.488,-0.488,-0.275,-0.453,-0.843,-0.843,-0.843,-0.81,-0.608,-0.608,-0.608]}
],
"chordStroke":[
{"id":"1","c":"HT","x":[-0.044,-0.09,-0.355],"y":[-0.839,-0.36,-0.761]},
{"id":"2","c":"HT","x":[-0.11,0.04,0.287],"y":[-0.833,-0.365,-0.789]},
{"id":"3","c":"HT","x":[-0.175,0.132,0.761],"y":[-0.822,-0.265,-0.355]},
{"id":"4","c":"HT","x":[-0.239,0.124,0.789],"y":[-0.805,-0.117,0.287]},
{"id":"5","c":"HT","x":[-0.301,0.012,0.355],"y":[-0.784,-0.005,0.761]},
{"id":"6","c":"HM","x":[0.562,0.033,-0.414],"y":[-0.624,-0.305,-0.731]},
{"id":"7","c":"HM","x":[0.511,0.166,0.224],"y":[-0.666,-0.332,-0.809]},
{"id":"8","c":"HM","x":[0.457,0.267,0.731],"y":[-0.704,-0.252,-0.414]},
{"id":"9","c":"HM","x":[0.401,0.272,0.809],"y":[-0.738,-0.116,0.224]},
{"id":"10","c":"HM","x":[0.342,0.17,0.414],"y":[-0.767,-0.008,0.731]},
{"id":"11","c":"EC","x":[0.839,0.083,-0.47],"y":[-0.044,-0.167,-0.696]},
{"id":"12","c":"EC","x":[0.833,0.224,0.16],"y":[-0.11,-0.21,-0.825]},
{"id":"13","c":"EC","x":[0.822,0.342,0.696],"y":[-0.175,-0.145,-0.47]},
{"id":"14","c":"EC","x":[0.805,0.367,0.825],"y":[-0.239,-0.018,0.16]},
{"id":"15","c":"EC","x":[0.784,0.282,0.47],"y":[-0.301,0.089,0.696]},
{"id":"16","c":"TC","x":[0.624,0.023,-0.523],"y":[0.562,-0.022,-0.657]},
{"id":"17","c":"TC","x":[0.666,0.171,0.095],"y":[0.511,-0.073,-0.835]},
{"id":"18","c":"TC","x":[0.704,0.306,0.657],"y":[0.457,-0.015,-0.523]},
{"id":"19","c":"TC","x":[0.738,0.354,0.835],"y":[0.401,0.112,0.095]},
{"id":"20","c":"TC","x":[0.767,0.29,0.523],"y":[0.342,0.225,0.657]},
{"id":"21","c":"PE","x":[0.044,-0.119,-0.573],"y":[0.839,0.051,-0.614]},
{"id":"22","c":"PE","x":[0.11,0.031,0.029],"y":[0.833,-0.002,-0.84]},
{"id":"23","c":"PE","x":[0.175,0.178,0.614],"y":[0.822,0.056,-0.573]},
{"id":"24","c":"PE","x":[0.239,0.243,0.84],"y":[0.805,0.188,0.029]},
{"id":"25","c":"PE","x":[0.301,0.197,0.573],"y":[0.784,0.315,0.614]},
{"id":"26","c":"HT","x":[-0.58,-0.15,-0.15],"y":[-0.62,-0.35,-0.6]}
],
"chordLabels":[{"n":"Pericyte","x":0.402,"y":0.97,"a":292.5,"s":"R"},{"n":"T cell","x":0.97,"y":0.402,"a":337.5,"s":"R"},{"n":"Endothelial cell","x":0.97,"y":-0.402,"a":22.5,"s":"R"},{"n":"High-Malignant cell","x":0.402,"y":-0.97,"a":67.5,"s":"R"},{"n":"High-TAM","x":-0.402,"y":-0.97,"a":292.5,"s":"L"},{"n":"Low-Malignant cell","x":-0.97,"y":-0.402,"a":337.5,"s":"L"},{"n":"Low-TAM","x":-0.97,"y":0.402,"a":22.5,"s":"L"},{"n":"Oligodendrocyte","x":-0.402,"y":0.97,"a":67.5,"s":"L"}],
"chordText":[{"g":"C","t":"CD99 signaling pathway network","x":0.09,"y":1.93,"k":"T"},{"g":"D","t":"EGF signaling pathway network","x":0.055,"y":1.986,"k":"T"},{"g":"E","t":"VEGF signaling pathway network","x":0.15,"y":1.97,"k":"T"},{"g":"C","t":"(C)","x":-2.24,"y":2.375,"k":"L"},{"g":"D","t":"(D)","x":-2.073,"y":2.369,"k":"L"},{"g":"E","t":"(E)","x":-1.867,"y":2.32,"k":"L"}]
},
"vconcat":[
{"data":{"name":"edges"},"bounds":"flush","spacing":0,"columns":4,
"facet":{"field":"p","type":"ordinal","header":{"title":null,"labels":false,"labelExpr":"''","labelFontSize":1,"labelPadding":0,"titlePadding":0}},
"spec":{"width":511.7,"height":473,
"encoding":{"x":{"field":"x","type":"quantitative","scale":{"domain":[-2.075,1.145],"nice":false,"zero":false},"axis":null},"y":{"field":"y","type":"quantitative","scale":{"domain":[-1.662,1.409],"nice":false,"zero":false},"axis":null}},
"layer":[
{"transform":[{"filter":"datum.w>0"},{"flatten":["x","y","o"]}],"mark":{"type":"line","interpolate":"basis","opacity":0.6},"encoding":{"order":{"field":"o"},"detail":{"field":"t"},"color":{"field":"c","type":"nominal","scale":{"domain":["EC","HM","HT","LM","LT","OL","PE","TC"]},"legend":null},"strokeWidth":{"field":"w","type":"quantitative","scale":null}}},
{"transform":[{"filter":"datum.w>0"},{"flatten":["x","y","o"]},{"filter":"datum.o==9"}],"mark":{"type":"point","filled":true,"size":4,"opacity":0.6,"strokeWidth":0},"encoding":{"color":{"field":"c","type":"nominal","scale":{"domain":["EC","HM","HT","LM","LT","OL","PE","TC"]},"legend":null},"angle":{"field":"h","type":"quantitative","scale":null},"shape":{"field":"t","type":"nominal","legend":null,"scale":{"domain":["LM","LT","HT","HM","EC","TC","PE","OL"],"range":["M0,17L6,32L-6,32Z","M0,11L6,26L-6,26Z","M0,9L6,24L-6,24Z","M0,8L6,23L-6,23Z","M0,5L6,20L-6,20Z","M0,6L6,21L-6,21Z","M0,6L6,21L-6,21Z","M0,7L6,22L-6,22Z"]}}}},
{"data":{"name":"nodes"},"mark":{"type":"point","filled":true,"shape":"circle","opacity":1},"encoding":{"color":{"field":"c","type":"nominal","scale":{"domain":["EC","HM","HT","LM","LT","OL","PE","TC"]},"legend":null},"size":{"field":"s","type":"quantitative","scale":null}}},
{"data":{"name":"labels"},"mark":{"type":"text","fontSize":18,"color":"black"},"encoding":{"text":{"field":"n"}}},
{"transform":[{"filter":"datum.lab"}],"mark":{"type":"text","fontSize":36,"fontWeight":"bold","color":"black"},"encoding":{"text":{"field":"lab"}}}
]}},
{"width":2128,"height":1975,
"resolve":{"scale":{"x":"independent","y":"independent","color":"independent"}},
"layer":[
{"encoding":{"x":{"field":"x","type":"quantitative","scale":{"domain":[0,8],"range":[148,986.4],"nice":false,"zero":false},"axis":null},"y":{"field":"y","type":"quantitative","scale":{"domain":[0,6],"range":[91,44.2],"nice":false,"zero":false},"axis":null},"text":{"field":"t"}},
"layer":[{"data":{"name":"btitle"},"mark":{"type":"text","fontSize":29}},{"data":{"name":"bletter"},"mark":{"type":"text","fontSize":36,"fontWeight":"bold"}}]},
{"data":{"name":"bars"},"transform":[{"filter":"datum.g=='O'"}],"mark":"bar","encoding":{"x":{"field":"c","type":"nominal","scale":{"domain":["EC","HM","HT","LM","LT","OL","PE","TC"],"range":[148,986.4],"paddingInner":0.39,"paddingOuter":0.195},"axis":null},"y":{"field":"v","type":"quantitative","stack":null,"scale":{"domain":[0,6],"range":[91,44.2],"nice":false},"axis":{"orient":"left","offset":-148,"values":[0,2,4],"title":null,"labelFontSize":15,"tickSize":4,"labelPadding":2}},"color":{"field":"c","type":"nominal","scale":{"domain":["EC","HM","HT","LM","LT","OL","PE","TC"]},"legend":null}}},
{"data":{"name":"heatO"},"mark":"rect","encoding":{"x":{"field":"c","type":"nominal","scale":{"domain":["EC","HM","HT","LM","LT","OL","PE","TC"],"range":[148,986.4],"paddingInner":0,"paddingOuter":0},"axis":null},"y":{"field":"r","type":"nominal","scale":{"domain":["PTN","SPP1","COLLAGEN","APP","LAMININ","CD99","PSAP","FN1","MK","GRN","NCAM","MHC−II","ESAM","VISFATIN","CCL","PECAM1","GALECTIN","ANNEXIN","MAG","CLDN","COMPLEMENT","THY1","CADM","VEGF","CDH","ANGPT","PARs","ITGB2","NOTCH","CNTN","MIF","FGF","TNF","CXCL","JAM","CD46","CDH5","EGF","CALCR","SEMA3","MHC−I","EDN","MPZ","PDGF","ICAM","CD39","CLEC","ANGPTL","SEMA6","HSPG","CD96","NECTIN","PTPRM"],"range":[95.7,840.4],"paddingInner":0,"paddingOuter":0},"axis":{"orient":"left","offset":-148,"title":null,"ticks":false,"domain":false,"labelFontSize":13.5,"labelPadding":4}},"color":{"field":"v","type":"quantitative","scale":{"domain":[0,0.125,0.25,0.375,0.5,0.625,0.75,0.875,1],"range":["#F7FCFD","#E5F5F9","#CCECE6","#99D8C9","#66C2A4","#41AE76","#238B45","#006D2C","#00441B"]},"legend":null}}},
{"data":{"name":"side"},"mark":{"type":"bar","fill":"#808080","stroke":"black","strokeWidth":1.5},"encoding":{"x":{"field":"o","type":"quantitative","scale":{"domain":[0,8],"range":[990,1036],"nice":false},"axis":{"orient":"bottom","offset":-1134.6,"values":[0,2,4,6,8],"title":null,"labelFontSize":13,"labelAngle":270,"labelAlign":"right","labelBaseline":"middle","tickSize":5,"labelPadding":2}},"y":{"field":"r","type":"nominal","sort":null,"scale":{"range":[95.7,840.4],"paddingInner":0.35,"paddingOuter":0.175},"axis":null}}},
{"data":{"name":"types"},"mark":"rect","encoding":{"x":{"field":"n","type":"nominal","sort":null,"scale":{"range":[148,986.4],"paddingInner":0,"paddingOuter":0},"axis":{"orient":"bottom","offset":-1121.2,"title":null,"ticks":false,"domain":false,"labelFontSize":13.3,"labelAngle":270,"labelAlign":"right","labelBaseline":"middle","labelPadding":5}},"y":{"field":"k","type":"nominal","scale":{"range":[844,853.8]},"axis":null},"color":{"field":"c","type":"nominal","scale":{"domain":["EC","HM","HT","LM","LT","OL","PE","TC"]},"legend":null}}},
{"data":{"name":"bars"},"transform":[{"filter":"datum.g=='I'"}],"mark":"bar","encoding":{"x":{"field":"c","type":"nominal","scale":{"domain":["EC","HM","HT","LM","LT","OL","PE","TC"],"range":[1199.6,2022.5],"paddingInner":0.39,"paddingOuter":0.195},"axis":null},"y":{"field":"v","type":"quantitative","stack":null,"scale":{"domain":[0,4.72],"range":[99,53],"nice":false},"axis":{"orient":"left","offset":-1199.6,"values":[0,2,4],"title":null,"labelFontSize":15,"tickSize":4,"labelPadding":2}},"color":{"field":"c","type":"nominal","scale":{"domain":["EC","HM","HT","LM","LT","OL","PE","TC"]},"legend":null}}},
{"data":{"name":"heatI"},"mark":"rect","encoding":{"x":{"field":"c","type":"nominal","scale":{"domain":["EC","HM","HT","LM","LT","OL","PE","TC"],"range":[1199.6,2022.5],"paddingInner":0,"paddingOuter":0},"axis":null},"y":{"field":"r","type":"nominal","scale":{"domain":["PTN","SPP1","COLLAGEN","APP","LAMININ","CD99","PSAP","FN1","MK","GRN","NCAM","MHC−II","ESAM","VISFATIN","CCL","PECAM1","GALECTIN","ANNEXIN","MAG","CLDN","COMPLEMENT","THY1","CADM","VEGF","CDH","ANGPT","PARs","ITGB2","NOTCH","CNTN","MIF","FGF","TNF","CXCL","JAM","CD46","CDH5","EGF","CALCR","SEMA3","MHC−I","EDN","MPZ","PDGF","ICAM","CD39","CLEC","ANGPTL","SEMA6","HSPG","CD96","NECTIN","PTPRM"],"range":[103.3,834.9],"paddingInner":0,"paddingOuter":0},"axis":{"orient":"left","offset":-1199.6,"title":null,"ticks":false,"domain":false,"labelFontSize":13.5,"labelPadding":4}},"color":{"field":"v","type":"quantitative","scale":{"domain":[0,0.125,0.25,0.375,0.5,0.625,0.75,0.875,1],"range":["#F7FCFD","#E5F5F9","#CCECE6","#99D8C9","#66C2A4","#41AE76","#238B45","#006D2C","#00441B"]},"legend":null}}},
{"data":{"name":"side"},"mark":{"type":"bar","fill":"#808080","stroke":"black","strokeWidth":1.5},"encoding":{"x":{"field":"i","type":"quantitative","scale":{"domain":[0,8],"range":[2026.6,2072],"nice":false},"axis":{"orient":"bottom","offset":-1140.1,"values":[0,2,4,6,8],"title":null,"labelFontSize":13,"labelAngle":270,"labelAlign":"right","labelBaseline":"middle","tickSize":5,"labelPadding":2}},"y":{"field":"r","type":"nominal","sort":null,"scale":{"range":[103.3,834.9],"paddingInner":0.35,"paddingOuter":0.175},"axis":null}}},
{"data":{"name":"types"},"mark":"rect","encoding":{"x":{"field":"n","type":"nominal","sort":null,"scale":{"range":[1199.6,2022.5],"paddingInner":0,"paddingOuter":0},"axis":{"orient":"bottom","offset":-1126.4,"title":null,"ticks":false,"domain":false,"labelFontSize":13,"labelAngle":270,"labelAlign":"right","labelBaseline":"middle","labelPadding":5}},"y":{"field":"k","type":"nominal","scale":{"range":[839,848.6]},"axis":null},"color":{"field":"c","type":"nominal","scale":{"domain":["EC","HM","HT","LM","LT","OL","PE","TC"]},"legend":null}}},
{"data":{"name":"ramp"},"mark":"rect","encoding":{"x":{"field":"k","type":"nominal","scale":{"range":[2100,2110]},"axis":null},"y":{"field":"v","type":"quantitative","scale":{"domain":[0,1],"range":[516,421],"nice":false},"axis":{"orient":"right","offset":-18,"values":[0.04,0.96],"labelExpr":"datum.value>0.5?'1':'0'","ticks":false,"domain":false,"labelFontSize":15,"labelPadding":6,"title":"Relative strength","titleFontSize":13,"titleFontWeight":"normal","titleAngle":270,"titleX":-22,"titleY":468.5,"titleAlign":"center","titleBaseline":"middle"}},"y2":{"field":"v2"},"color":{"field":"v","type":"quantitative","scale":{"domain":[0,0.125,0.25,0.375,0.5,0.625,0.75,0.875,1],"range":["#F7FCFD","#E5F5F9","#CCECE6","#99D8C9","#66C2A4","#41AE76","#238B45","#006D2C","#00441B"]},"legend":null}}},
{"encoding":{"x":{"field":"x","type":"quantitative","scale":{"domain":[-1,1],"range":[208.5,491.5],"nice":false,"zero":false},"axis":null},"y":{"field":"y","type":"quantitative","scale":{"domain":[-1,1],"range":[1500.5,1217.5],"nice":false,"zero":false},"axis":null}},
"layer":[
{"data":{"name":"ring"},"mark":{"type":"arc","innerRadius":132,"outerRadius":141.5},"encoding":{"theta":{"field":"a0","type":"quantitative","stack":null,"scale":{"domain":[0,360]}},"theta2":{"field":"a1"},"color":{"field":"c","type":"nominal","scale":{"domain":["EC","HM","HT","LM","LT","OL","PE","TC"]},"legend":null}}},
{"data":{"name":"thin"},"transform":[{"filter":"datum.g=='C'"}],"mark":{"type":"arc","innerRadius":121.5,"outerRadius":126.5},"encoding":{"theta":{"field":"a0","type":"quantitative","stack":null,"scale":{"domain":[0,360]}},"theta2":{"field":"a1"},"color":{"field":"c","type":"nominal","scale":{"domain":["EC","HM","HT","LM","LT","OL","PE","TC"]},"legend":null}}},
{"data":{"name":"chordStroke"},"transform":[{"flatten":["x","y"]},{"window":[{"op":"row_number","as":"i"}],"groupby":["id"]}],"mark":{"type":"line","interpolate":"basis","strokeWidth":9,"opacity":0.6},"encoding":{"order":{"field":"i"},"detail":{"field":"id"},"color":{"field":"c","type":"nominal","scale":{"domain":["EC","HM","HT","LM","LT","OL","PE","TC"]},"legend":null}}},
{"data":{"name":"chordFill"},"transform":[{"filter":"datum.g=='C'"},{"flatten":["x","y"]},{"window":[{"op":"row_number","as":"i"}],"groupby":["id"]}],"mark":{"type":"line","interpolate":"basis","stroke":"white","strokeWidth":0.8,"fillOpacity":0.55},"encoding":{"order":{"field":"i"},"detail":{"field":"id"},"fill":{"field":"c","type":"nominal","scale":{"domain":["EC","HM","HT","LM","LT","OL","PE","TC"]},"legend":null}}},
{"data":{"name":"chordLabels"},"transform":[{"filter":"datum.s=='R'"}],"mark":{"type":"text","align":"left","fontSize":14.5},"encoding":{"text":{"field":"n"},"angle":{"field":"a","type":"quantitative","scale":null}}},
{"data":{"name":"chordLabels"},"transform":[{"filter":"datum.s=='L'"}],"mark":{"type":"text","align":"right","fontSize":14.5},"encoding":{"text":{"field":"n"},"angle":{"field":"a","type":"quantitative","scale":null}}},
{"data":{"name":"chordText"},"transform":[{"filter":"datum.g=='C'&&datum.k=='T'"}],"mark":{"type":"text","fontSize":28,"fontWeight":"bold"},"encoding":{"text":{"field":"t"}}},
{"data":{"name":"chordText"},"transform":[{"filter":"datum.g=='C'&&datum.k=='L'"}],"mark":{"type":"text","fontSize":36,"fontWeight":"bold"},"encoding":{"text":{"field":"t"}}}
]},
{"encoding":{"x":{"field":"x","type":"quantitative","scale":{"domain":[-1,1],"range":[932.3,1214.3],"nice":false,"zero":false},"axis":null},"y":{"field":"y","type":"quantitative","scale":{"domain":[-1,1],"range":[1507,1225],"nice":false,"zero":false},"axis":null}},
"layer":[
{"data":{"name":"ring"},"mark":{"type":"arc","innerRadius":131.5,"outerRadius":141},"encoding":{"theta":{"field":"a0","type":"quantitative","stack":null,"scale":{"domain":[0,360]}},"theta2":{"field":"a1"},"color":{"field":"c","type":"nominal","scale":{"domain":["EC","HM","HT","LM","LT","OL","PE","TC"]},"legend":null}}},
{"data":{"name":"thin"},"transform":[{"filter":"datum.g=='D'"}],"mark":{"type":"arc","innerRadius":121.5,"outerRadius":126.5},"encoding":{"theta":{"field":"a0","type":"quantitative","stack":null,"scale":{"domain":[0,360]}},"theta2":{"field":"a1"},"color":{"field":"c","type":"nominal","scale":{"domain":["EC","HM","HT","LM","LT","OL","PE","TC"]},"legend":null}}},
{"data":{"name":"chordFill"},"transform":[{"filter":"datum.g=='D'"},{"flatten":["x","y"]},{"window":[{"op":"row_number","as":"i"}],"groupby":["id"]}],"mark":{"type":"line","interpolate":"basis","stroke":"white","strokeWidth":0.8,"fillOpacity":0.55},"encoding":{"order":{"field":"i"},"detail":{"field":"id"},"fill":{"field":"c","type":"nominal","scale":{"domain":["EC","HM","HT","LM","LT","OL","PE","TC"]},"legend":null}}},
{"data":{"name":"chordLabels"},"transform":[{"filter":"datum.s=='R'"}],"mark":{"type":"text","align":"left","fontSize":14.5},"encoding":{"text":{"field":"n"},"angle":{"field":"a","type":"quantitative","scale":null}}},
{"data":{"name":"chordLabels"},"transform":[{"filter":"datum.s=='L'"}],"mark":{"type":"text","align":"right","fontSize":14.5},"encoding":{"text":{"field":"n"},"angle":{"field":"a","type":"quantitative","scale":null}}},
{"data":{"name":"chordText"},"transform":[{"filter":"datum.g=='D'&&datum.k=='T'"}],"mark":{"type":"text","fontSize":28,"fontWeight":"bold"},"encoding":{"text":{"field":"t"}}},
{"data":{"name":"chordText"},"transform":[{"filter":"datum.g=='D'&&datum.k=='L'"}],"mark":{"type":"text","fontSize":36,"fontWeight":"bold"},"encoding":{"text":{"field":"t"}}}
]},
{"encoding":{"x":{"field":"x","type":"quantitative","scale":{"domain":[-1,1],"range":[1657.5,1936.5],"nice":false,"zero":false},"axis":null},"y":{"field":"y","type":"quantitative","scale":{"domain":[-1,1],"range":[1495.5,1216.5],"nice":false,"zero":false},"axis":null}},
"layer":[
{"data":{"name":"ring"},"mark":{"type":"arc","innerRadius":130.5,"outerRadius":139.5},"encoding":{"theta":{"field":"a0","type":"quantitative","stack":null,"scale":{"domain":[0,360]}},"theta2":{"field":"a1"},"color":{"field":"c","type":"nominal","scale":{"domain":["EC","HM","HT","LM","LT","OL","PE","TC"]},"legend":null}}},
{"data":{"name":"thin"},"transform":[{"filter":"datum.g=='E'"}],"mark":{"type":"arc","innerRadius":120,"outerRadius":125},"encoding":{"theta":{"field":"a0","type":"quantitative","stack":null,"scale":{"domain":[0,360]}},"theta2":{"field":"a1"},"color":{"field":"c","type":"nominal","scale":{"domain":["EC","HM","HT","LM","LT","OL","PE","TC"]},"legend":null}}},
{"data":{"name":"chordFill"},"transform":[{"filter":"datum.g=='E'"},{"flatten":["x","y"]},{"window":[{"op":"row_number","as":"i"}],"groupby":["id"]}],"mark":{"type":"line","interpolate":"basis","stroke":"white","strokeWidth":0.8,"fillOpacity":0.55},"encoding":{"order":{"field":"i"},"detail":{"field":"id"},"fill":{"field":"c","type":"nominal","scale":{"domain":["EC","HM","HT","LM","LT","OL","PE","TC"]},"legend":null}}},
{"data":{"name":"chordLabels"},"transform":[{"filter":"datum.s=='R'"}],"mark":{"type":"text","align":"left","fontSize":14.5},"encoding":{"text":{"field":"n"},"angle":{"field":"a","type":"quantitative","scale":null}}},
{"data":{"name":"chordLabels"},"transform":[{"filter":"datum.s=='L'"}],"mark":{"type":"text","align":"right","fontSize":14.5},"encoding":{"text":{"field":"n"},"angle":{"field":"a","type":"quantitative","scale":null}}},
{"data":{"name":"chordText"},"transform":[{"filter":"datum.g=='E'&&datum.k=='T'"}],"mark":{"type":"text","fontSize":28,"fontWeight":"bold"},"encoding":{"text":{"field":"t"}}},
{"data":{"name":"chordText"},"transform":[{"filter":"datum.g=='E'&&datum.k=='L'"}],"mark":{"type":"text","fontSize":36,"fontWeight":"bold"},"encoding":{"text":{"field":"t"}}}
]},
{"data":{"name":"imp"},"transform":[{"filter":"datum.g=='C'"}],"mark":"rect","encoding":{"x":{"field":"c","type":"nominal","scale":{"domain":["EC","HM","HT","LM","LT","OL","PE","TC"],"range":[113.9,610.7],"paddingInner":0,"paddingOuter":0},"axis":null},"y":{"field":"r","type":"nominal","scale":{"domain":["Sender","Receiver","Mediator","Influencer"],"range":[1634.3,1789.1],"paddingInner":0,"paddingOuter":0},"axis":{"orient":"left","offset":-113.9,"title":null,"ticks":false,"domain":false,"labelFontSize":21.5,"labelPadding":6}},"color":{"field":"v","type":"quantitative","scale":{"domain":[0,0.125,0.25,0.375,0.5,0.625,0.75,0.875,1],"range":["#F7FCFD","#E5F5F9","#CCECE6","#99D8C9","#66C2A4","#41AE76","#238B45","#006D2C","#00441B"]},"legend":null}}},
{"data":{"name":"types"},"mark":"rect","encoding":{"x":{"field":"n","type":"nominal","sort":null,"scale":{"range":[113.9,610.7],"paddingInner":0,"paddingOuter":0},"axis":{"orient":"bottom","offset":-167.3,"title":null,"ticks":false,"domain":false,"labelFontSize":22,"labelAngle":315,"labelAlign":"right","labelBaseline":"top","labelPadding":6}},"y":{"field":"k","type":"nominal","scale":{"range":[1795.3,1807.7]},"axis":null},"color":{"field":"c","type":"nominal","scale":{"domain":["EC","HM","HT","LM","LT","OL","PE","TC"]},"legend":null}}},
{"data":{"name":"ramp"},"mark":"rect","encoding":{"x":{"field":"k","type":"nominal","scale":{"range":[647.4,661.6]},"axis":null},"y":{"field":"v","type":"quantitative","scale":{"domain":[0,1],"range":[1775,1649],"nice":false},"axis":{"orient":"right","offset":-1466.4,"values":[0.04,0.96],"labelExpr":"datum.value>0.5?'1':'0'","ticks":false,"domain":false,"labelFontSize":18,"labelPadding":5,"title":"Importance","titleFontSize":17.5,"titleFontWeight":"normal","titleAngle":270,"titleX":-31.6,"titleY":1711,"titleAlign":"center","titleBaseline":"middle"}},"y2":{"field":"v2"},"color":{"field":"v","type":"quantitative","scale":{"domain":[0,0.125,0.25,0.375,0.5,0.625,0.75,0.875,1],"range":["#F7FCFD","#E5F5F9","#CCECE6","#99D8C9","#66C2A4","#41AE76","#238B45","#006D2C","#00441B"]},"legend":null}}},
{"data":{"name":"imp"},"transform":[{"filter":"datum.g=='D'"}],"mark":"rect","encoding":{"x":{"field":"c","type":"nominal","scale":{"domain":["EC","HM","HT","LM","LT","OL","PE","TC"],"range":[833.4,1337.5],"paddingInner":0,"paddingOuter":0},"axis":null},"y":{"field":"r","type":"nominal","scale":{"domain":["Sender","Receiver","Mediator","Influencer"],"range":[1637.4,1795.3],"paddingInner":0,"paddingOuter":0},"axis":{"orient":"left","offset":-833.4,"title":null,"ticks":false,"domain":false,"labelFontSize":21.5,"labelPadding":6}},"color":{"field":"v","type":"quantitative","scale":{"domain":[0,0.125,0.25,0.375,0.5,0.625,0.75,0.875,1],"range":["#F7FCFD","#E5F5F9","#CCECE6","#99D8C9","#66C2A4","#41AE76","#238B45","#006D2C","#00441B"]},"legend":null}}},
{"data":{"name":"types"},"mark":"rect","encoding":{"x":{"field":"n","type":"nominal","sort":null,"scale":{"range":[833.4,1337.5],"paddingInner":0,"paddingOuter":0},"axis":{"orient":"bottom","offset":-161,"title":null,"ticks":false,"domain":false,"labelFontSize":22,"labelAngle":315,"labelAlign":"right","labelBaseline":"top","labelPadding":6}},"y":{"field":"k","type":"nominal","scale":{"range":[1801.5,1814]},"axis":null},"color":{"field":"c","type":"nominal","scale":{"domain":["EC","HM","HT","LM","LT","OL","PE","TC"]},"legend":null}}},
{"data":{"name":"ramp"},"mark":"rect","encoding":{"x":{"field":"k","type":"nominal","scale":{"range":[1374.3,1388.5]},"axis":null},"y":{"field":"v","type":"quantitative","scale":{"domain":[0,1],"range":[1779,1653],"nice":false},"axis":{"orient":"right","offset":-739.5,"values":[0.04,0.96],"labelExpr":"datum.value>0.5?'1':'0'","ticks":false,"domain":false,"labelFontSize":18,"labelPadding":5,"title":"Importance","titleFontSize":17.5,"titleFontWeight":"normal","titleAngle":270,"titleX":-32.5,"titleY":1716,"titleAlign":"center","titleBaseline":"middle"}},"y2":{"field":"v2"},"color":{"field":"v","type":"quantitative","scale":{"domain":[0,0.125,0.25,0.375,0.5,0.625,0.75,0.875,1],"range":["#F7FCFD","#E5F5F9","#CCECE6","#99D8C9","#66C2A4","#41AE76","#238B45","#006D2C","#00441B"]},"legend":null}}},
{"data":{"name":"imp"},"transform":[{"filter":"datum.g=='E'"}],"mark":"rect","encoding":{"x":{"field":"c","type":"nominal","scale":{"domain":["EC","HM","HT","LM","LT","OL","PE","TC"],"range":[1573,2057.4],"paddingInner":0,"paddingOuter":0},"axis":null},"y":{"field":"r","type":"nominal","scale":{"domain":["Sender","Receiver","Mediator","Influencer"],"range":[1633,1784],"paddingInner":0,"paddingOuter":0},"axis":{"orient":"left","offset":-1573,"title":null,"ticks":false,"domain":false,"labelFontSize":21.5,"labelPadding":6}},"color":{"field":"v","type":"quantitative","scale":{"domain":[0,0.125,0.25,0.375,0.5,0.625,0.75,0.875,1],"range":["#F7FCFD","#E5F5F9","#CCECE6","#99D8C9","#66C2A4","#41AE76","#238B45","#006D2C","#00441B"]},"legend":null}}},
{"data":{"name":"types"},"mark":"rect","encoding":{"x":{"field":"n","type":"nominal","sort":null,"scale":{"range":[1573,2057.4],"paddingInner":0,"paddingOuter":0},"axis":{"orient":"bottom","offset":-173,"title":null,"ticks":false,"domain":false,"labelFontSize":22,"labelAngle":315,"labelAlign":"right","labelBaseline":"top","labelPadding":6}},"y":{"field":"k","type":"nominal","scale":{"range":[1789.8,1802]},"axis":null},"color":{"field":"c","type":"nominal","scale":{"domain":["EC","HM","HT","LM","LT","OL","PE","TC"]},"legend":null}}},
{"data":{"name":"ramp"},"mark":"rect","encoding":{"x":{"field":"k","type":"nominal","scale":{"range":[2092.9,2106.5]},"axis":null},"y":{"field":"v","type":"quantitative","scale":{"domain":[0,1],"range":[1770.6,1646.7],"nice":false},"axis":{"orient":"right","offset":-21.5,"values":[0.04,0.96],"labelExpr":"datum.value>0.5?'1':'0'","ticks":false,"domain":false,"labelFontSize":18,"labelPadding":5,"title":"Importance","titleFontSize":17.5,"titleFontWeight":"normal","titleAngle":270,"titleX":-30.5,"titleY":1709,"titleAlign":"center","titleBaseline":"middle"}},"y2":{"field":"v2"},"color":{"field":"v","type":"quantitative","scale":{"domain":[0,0.125,0.25,0.375,0.5,0.625,0.75,0.875,1],"range":["#F7FCFD","#E5F5F9","#CCECE6","#99D8C9","#66C2A4","#41AE76","#238B45","#006D2C","#00441B"]},"legend":null}}}
]}
]}
